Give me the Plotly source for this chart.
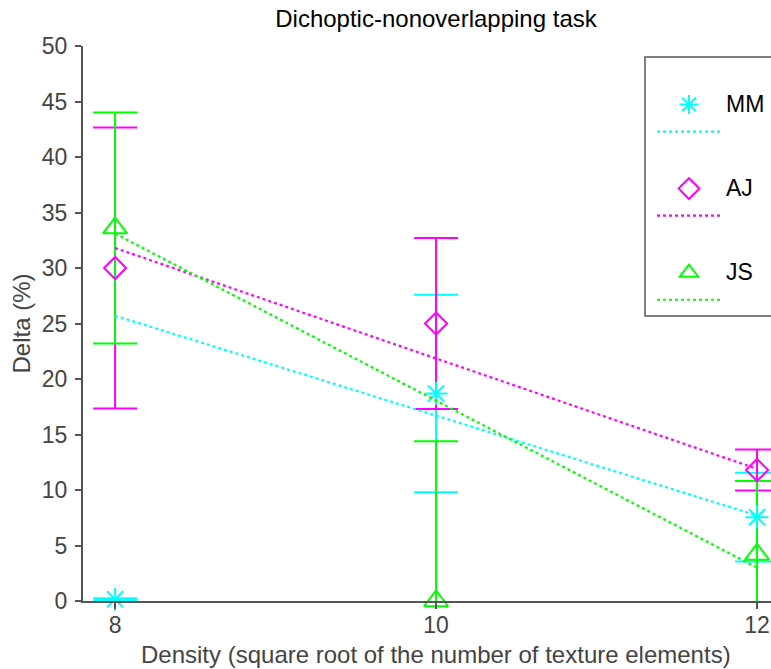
import plotly.graph_objects as go

# ---- data ----
density = [8, 10, 12]
subjects = ["MM", "AJ", "JS"]
mm_delta = [0.15, 18.7, 7.55]
mm_err = [0.1, 8.9, 4.0]
aj_delta = [30.0, 25.0, 11.8]
aj_err = [12.65, 7.7, 1.85]
js_delta = [33.6, 0.0, 4.2]
js_err = [10.4, 14.4, 6.6]
fit_x = [8, 12]
mm_fit = [25.7, 7.7]
aj_fit = [31.8, 11.9]
js_fit = [33.1, 3.0]
y_ticks = [0, 5, 10, 15, 20, 25, 30, 35, 40, 45, 50]
x_ticks = [8, 10, 12]

colors = {"MM": "#00FFFF", "AJ": "#FF00FF", "JS": "#00FF00"}
symbols = {"MM": "asterisk-open", "AJ": "diamond-open", "JS": "triangle-up-open"}
sizes = {"MM": 19, "AJ": 17, "JS": 21}
vals = {"MM": (mm_delta, mm_err, mm_fit), "AJ": (aj_delta, aj_err, aj_fit),
        "JS": (js_delta, js_err, js_fit)}

FONT = "Liberation Sans, Arial, sans-serif"
fig = go.Figure()

# error bars (clipped to axes)
for s in subjects:
    d, e, f = vals[s]
    fig.add_trace(go.Scatter(
        x=density, y=d, mode="markers", showlegend=False, hoverinfo="skip",
        marker=dict(size=1, opacity=0),
        error_y=dict(type="data", array=e, visible=True, color=colors[s],
                     thickness=2, width=22),
        cliponaxis=True))

# markers + fit lines (legend entries)
for i, s in enumerate(subjects):
    d, e, f = vals[s]
    fig.add_trace(go.Scatter(
        x=density, y=d, mode="markers", legendgroup=s,
        name="<span style='font-size:23px'>" + s + "</span>",
        marker=dict(symbol=symbols[s], size=sizes[s], color=colors[s],
                    line=dict(color=colors[s], width=2)),
        cliponaxis=False))
    fig.add_trace(go.Scatter(
        x=fit_x, y=f, mode="lines", name=" ", legendgroup=s,
        line=dict(color=colors[s], width=2.2, dash="dot")))

axis_col = "#555555"
tick_col = "#444444"
fig.update_layout(
    width=771, height=669,
    margin=dict(l=83, r=0, t=46, b=68, autoexpand=False),
    plot_bgcolor="white", paper_bgcolor="white",
    font=dict(family=FONT, size=23, color=tick_col),
    title=dict(text="Dichoptic-nonoverlapping task", x=(436 - 83) / 688, xref="paper",
               xanchor="center", y=1 - 19 / 669, yanchor="middle", yref="container",
               font=dict(family=FONT, size=24, color="#000000")),
    xaxis=dict(range=[7.8, 12.087], tickvals=x_ticks, showgrid=False, zeroline=False,
               showline=True, linecolor=axis_col, linewidth=2,
               ticks="outside", ticklen=6, tickwidth=2, tickcolor=axis_col,
               tickfont=dict(size=23, color=tick_col), ticklabelstandoff=-4),
    yaxis=dict(range=[0, 50], tickvals=y_ticks, showgrid=False, zeroline=False,
               showline=True, linecolor=axis_col, linewidth=2,
               ticks="outside", ticklen=6, tickwidth=2, tickcolor=axis_col,
               tickfont=dict(size=23, color=tick_col), ticklabelstandoff=3,
               title=dict(text="Delta (%)", font=dict(size=24, color=tick_col),
                          standoff=4)),
    annotations=[dict(text="Density (square root of the number of texture elements)",
                      xref="paper", yref="paper", x=(436 - 83) / 688, y=(601 - 655) / 555,
                      xanchor="center", yanchor="middle", showarrow=False,
                      font=dict(family=FONT, size=24, color=tick_col))],
    shapes=[dict(type="rect", xref="paper", yref="paper",
                 x0=(645 - 83) / 688, x1=1.05, y0=(601 - 316) / 555, y1=(601 - 57) / 555,
                 line=dict(color="#555555", width=1.5), fillcolor="white", layer="below")],
    legend=dict(x=(652 - 83) / 688, y=(601 - 58) / 555, xanchor="left", yanchor="top",
                bgcolor="rgba(0,0,0,0)", borderwidth=0,
                font=dict(family=FONT, size=18.5, color="#000000"),
                tracegroupgap=30, itemwidth=64,
                title=dict(text=" ", font=dict(size=21.5))),
)

fig.write_html("out.html")
